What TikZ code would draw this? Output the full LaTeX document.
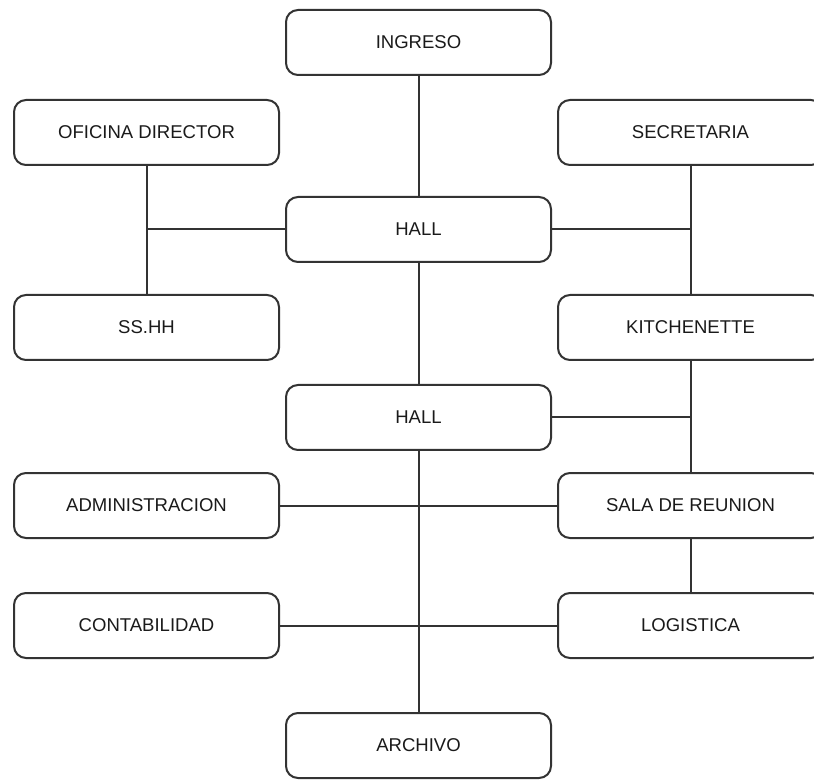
\documentclass[tikz,border=0pt]{standalone}
\usepackage{fontspec}
\setmainfont{Liberation Sans}
\definecolor{edge}{HTML}{333333}
\definecolor{txt}{HTML}{1A1A1A}
\begin{document}
\begin{tikzpicture}[x=0.75pt,y=-0.75pt,
  room/.style={draw=edge,line width=1.5pt,fill=white,rounded corners=9pt,
    minimum width=198.75pt,minimum height=48.75pt,inner sep=0pt,
    text=txt,font=\fontsize{13.9}{16}\selectfont},
  link/.style={draw=edge,line width=1.5pt}]
\clip (0,0) rectangle (814,780);
\fill[white] (0,0) rectangle (814,780);
% nodes
\node[room] (ingreso) at (418.5,42.5) {INGRESO};
\node[room] (od) at (146.5,132.5) {OFICINA DIRECTOR};
\node[room] (sec) at (690.5,132.5) {SECRETARIA};
\node[room] (hall1) at (418.5,229.5) {HALL};
\node[room] (ss) at (146.5,327.5) {SS.HH};
\node[room] (kit) at (690.5,327.5) {KITCHENETTE};
\node[room] (hall2) at (418.5,417.5) {HALL};
\node[room] (admin) at (146.5,505.5) {ADMINISTRACION};
\node[room] (sala) at (690.5,505.5) {SALA DE REUNION};
\node[room] (conta) at (146.5,625.5) {CONTABILIDAD};
\node[room] (log) at (690.5,625.5) {LOGISTICA};
\node[room] (archivo) at (418.5,745.5) {ARCHIVO};
% junctions
\coordinate (jl1) at (146.5,229.5);
\coordinate (jr1) at (690.5,229.5);
\coordinate (jr2) at (690.5,417.5);
% connectors
\begin{scope}[on background layer/.try]
\end{scope}
\path[link] (ingreso) -- (hall1);
\path[link] (od) -- (ss);
\path[link] (jl1) -- (hall1);
\path[link] (hall1) -- (jr1);
\path[link] (sec) -- (kit);
\path[link] (hall1) -- (hall2);
\path[link] (hall2) -- (jr2);
\path[link] (kit) -- (sala);
\path[link] (hall2) -- (archivo);
\path[link] (admin) -- (sala);
\path[link] (conta) -- (log);
\path[link] (sala) -- (log);
\end{tikzpicture}
\end{document}
